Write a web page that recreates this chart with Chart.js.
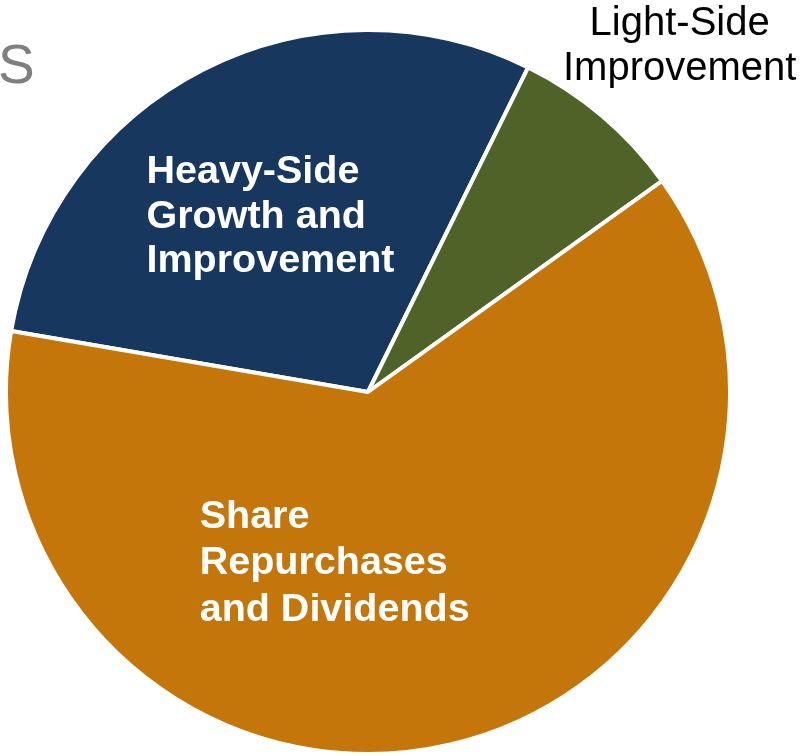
<!DOCTYPE html>
<html>
<head>
<meta charset="utf-8">
<title>Capital Allocation</title>
<script src="https://cdn.jsdelivr.net/npm/chart.js@4.4.1/dist/chart.umd.min.js"></script>
<style>
  html, body { margin: 0; padding: 0; background: #ffffff; overflow: hidden; }
  #wrap { position: relative; width: 800px; height: 756px; }
</style>
</head>
<body>
<div id="wrap">
  <canvas id="allocation-chart" width="800" height="756"></canvas>
</div>
<script>
// Categorias e valores (% do total)
const categorias = ["Heavy-Side Growth and Improvement", "Light-Side Improvement", "Share Repurchases and Dividends"];
const valores = [29.6, 7.8, 62.6];
const cores = ["#17375E", "#4F6228", "#C4760A"];

// Rótulos de cada fatia, quebrados em linhas
const rotulos = [
  ["Heavy-Side", "Growth and", "Improvement"],
  ["Light-Side", "Improvement"],
  ["Share", "Repurchases", "and Dividends"],
];

// Posição dos rótulos relativa ao centro (fração do raio) e estilo
const estiloRotulos = [
  { dx: -0.612, dy: -0.577, align: "left", color: "#ffffff", font: "bold 39.5px 'Liberation Sans', Arial, sans-serif", lineHeight: 44.5 },
  { dx: 0.861, dy: -0.985, align: "center", color: "#000000", font: "40px 'Liberation Sans', Arial, sans-serif", lineHeight: 45 },
  { dx: -0.465, dy: 0.375, align: "left", color: "#ffffff", font: "bold 39.5px 'Liberation Sans', Arial, sans-serif", lineHeight: 46.5 },
];

// Plugin para desenhar os rótulos das fatias e o texto cortado do título
const pluginRotulos = {
  id: "rotulosFatias",
  afterDatasetsDraw(chart) {
    const ctx = chart.ctx;
    const arcos = chart.getDatasetMeta(0).data;
    ctx.save();
    ctx.textBaseline = "alphabetic";
    arcos.forEach((arco, i) => {
      const est = estiloRotulos[i];
      const r = arco.outerRadius;
      const x = arco.x + est.dx * r;
      const y0 = arco.y + est.dy * r;
      ctx.font = est.font;
      ctx.fillStyle = est.color;
      ctx.textAlign = est.align;
      rotulos[i].forEach((linha, j) => {
        ctx.fillText(linha, x, y0 + j * est.lineHeight);
      });
    });

    // resto do título que fica à esquerda
    ctx.font = "55px 'Liberation Sans', Arial, sans-serif";
    ctx.fillStyle = "#7F7F7F";
    ctx.textAlign = "left";
    ctx.fillText("S", -2, 83);
    ctx.restore();
  },
};

const ctxAlocacao = document.getElementById("allocation-chart").getContext("2d");
new Chart(ctxAlocacao, {
  type: "pie",
  data: {
    labels: categorias,
    datasets: [{
      data: valores,
      backgroundColor: cores,
      borderColor: "#ffffff",
      borderWidth: 4,
      hoverOffset: 0,
    }],
  },
  options: {
    responsive: false,
    animation: false,
    rotation: -80.3,
    // a borda reduz o raio em ~4px, por isso a área é um pouco maior
    layout: { padding: { left: 3, top: 28, right: 67, bottom: -2 } },
    plugins: {
      legend: { display: false },
      tooltip: { enabled: false },
    },
  },
  plugins: [pluginRotulos],
});
</script>
</body>
</html>
